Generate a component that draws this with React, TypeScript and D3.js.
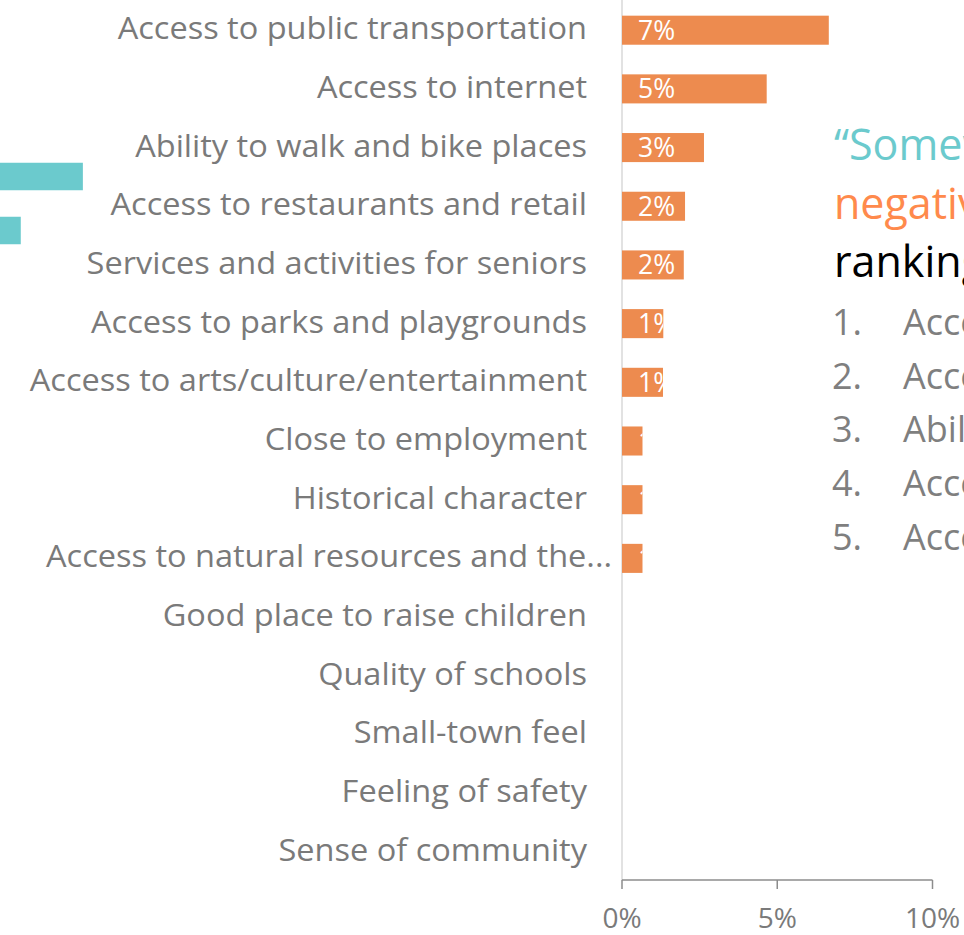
import React from "react";
import * as d3 from "d3";

const categories = [
  "Access to public transportation",
  "Access to internet",
  "Ability to walk and bike places",
  "Access to restaurants and retail",
  "Services and activities for seniors",
  "Access to parks and playgrounds",
  "Access to arts/culture/entertainment",
  "Close to employment",
  "Historical character",
  "Access to natural resources and the...",
  "Good place to raise children",
  "Quality of schools",
  "Small-town feel",
  "Feeling of safety",
  "Sense of community",
];
const values = [0.0666, 0.0466, 0.0264, 0.0203, 0.0199, 0.0133, 0.0132, 0.0066, 0.0066, 0.0066, 0, 0, 0, 0, 0];
const xTicks = [0, 0.05, 0.1];

// partially visible neighbouring chart (teal)
const leftCategories = ["left-a", "left-b"];
const leftValues = [0.075, 0.055];

const titleLines = [
  { text: "“Somewhat", color: "#6BCACD" },
  { text: "negatively”", color: "#FF8A4C" },
  { text: "ranking:", color: "#000000" },
];
const rankList = [
  "Access to public transportation",
  "Access to internet",
  "Ability to walk and bike places",
  "Access to restaurants and retail",
  "Access to arts/culture/entertainment",
];

const W = 964;
const H = 935;
const FONT = "'Open Sans', Lato, sans-serif";

export default function App() {
  const x = d3.scaleLinear().domain([0, 0.1]).range([622, 932.5]);
  const y = d3.scaleBand<string>().domain(categories).range([1, 881]).paddingInner(0.505).paddingOuter(0.25);
  const xl = d3.scaleLinear().domain([0, 0.1]).range([-150, 160.5]);
  const yl = d3.scalePoint<string>().domain(leftCategories).range([176.5, 230.5]);
  const lbh = 27.5;
  const fmt = d3.format(".0%");
  const axisY = 880;
  const sx = 1.067;

  return (
    <svg width={W} height={H} style={{ position: "absolute", left: 0, top: 0, background: "#fff" }} fontFamily={FONT}>
      <defs>
        {categories.map((c, i) => (
          <clipPath id={`clip${i}`} key={c}>
            <rect x={x(0)} y={y(c)!} width={Math.max(0, x(values[i]) - x(0))} height={y.bandwidth()} />
          </clipPath>
        ))}
      </defs>
      {/* left teal bars */}
      {leftCategories.map((c, i) => (
        <rect key={c} x={xl(0)} y={yl(c)! - lbh / 2} width={xl(leftValues[i]) - xl(0)} height={lbh} fill="#6BCACD" />
      ))}
      {/* vertical axis line */}
      <line x1={x(0)} x2={x(0)} y1={0} y2={axisY} stroke="#D9D9D9" strokeWidth={1.5} />
      {/* category labels */}
      {categories.map((c) => {
        const truncated = c.endsWith("...");
        const lx = truncated ? 612 : 587;
        const ly = y(c)! + y.bandwidth() / 2 + 9;
        return (
          <text
            key={c}
            transform={`translate(${lx},${ly}) scale(${sx},1)`}
            textAnchor="end"
            fontSize={30.5}
            fill="#7A7A7A"
          >
            {c}
          </text>
        );
      })}
      {/* bars */}
      {categories.map((c, i) =>
        values[i] > 0 ? (
          <g key={c}>
            <rect x={x(0)} y={y(c)!} width={x(values[i]) - x(0)} height={y.bandwidth()} fill="#ED8B4F" />
            <g clipPath={`url(#clip${i})`}>
              <text
                x={x(0) + 16}
                y={y(c)! + y.bandwidth() / 2 + 9.5}
                fontSize={26.5}
                fill="#FFFFFF"
              >
                {fmt(values[i])}
              </text>
            </g>
          </g>
        ) : null
      )}
      {/* x axis */}
      <line x1={x(0)} x2={x(0.1)} y1={axisY} y2={axisY} stroke="#8C8C8C" strokeWidth={1.5} />
      {xTicks.map((t) => (
        <g key={t}>
          <line x1={x(t)} x2={x(t)} y1={axisY} y2={axisY + 9} stroke="#8C8C8C" strokeWidth={1.5} />
          <text x={x(t)} y={928} textAnchor="middle" fontSize={28} fill="#7A7A7A">
            {fmt(t)}
          </text>
        </g>
      ))}
      {/* annotation */}
      {titleLines.map((l, i) => (
        <text key={l.text} x={834} y={160 + i * 58.5} fontSize={43} fill={l.color}>
          {l.text}
        </text>
      ))}
      {rankList.map((r, i) => (
        <g key={r}>
          <text x={832} y={335 + i * 53.7} fontSize={36} fill="#7F7F7F">
            {`${i + 1}.`}
          </text>
          <text x={903} y={335 + i * 53.7} fontSize={36} fill="#7F7F7F">
            {r}
          </text>
        </g>
      ))}
    </svg>
  );
}
